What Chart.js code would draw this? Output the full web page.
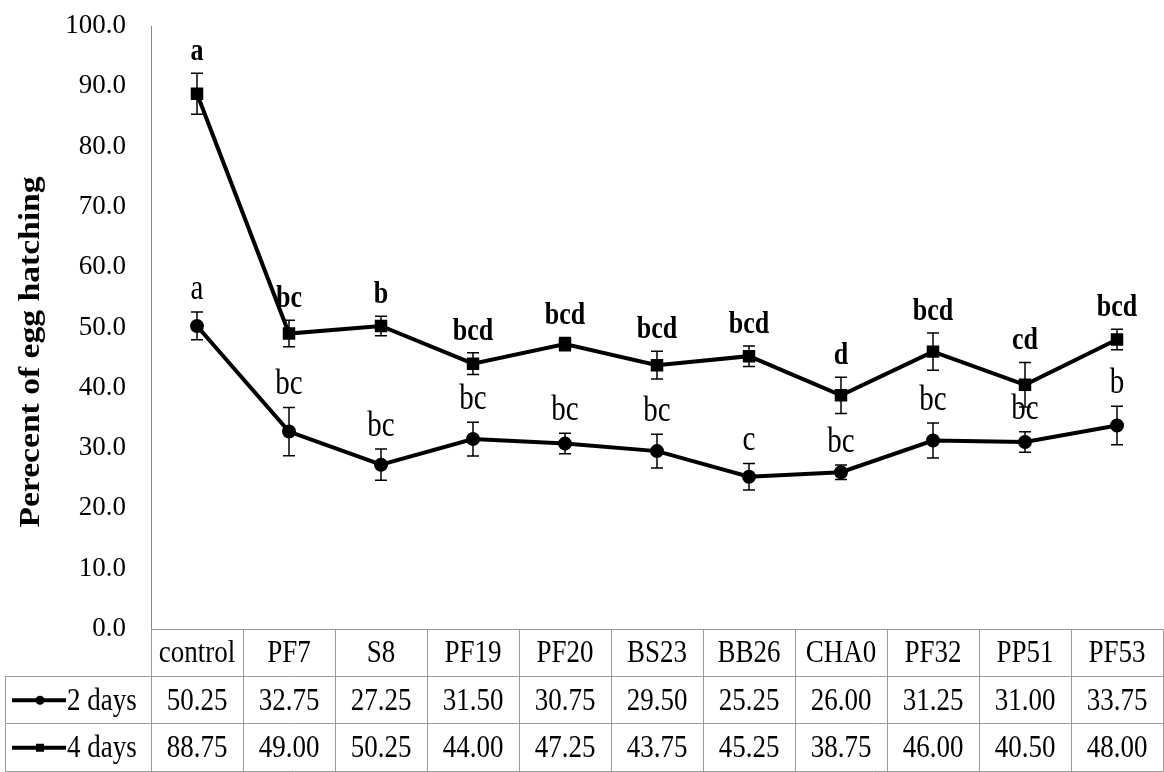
<!DOCTYPE html>
<html>
<head>
<meta charset="utf-8">
<script src="https://cdn.jsdelivr.net/npm/chart.js@4.4.1/dist/chart.umd.min.js"></script>
<style>
  body { margin: 0; background: #fff; }
  #wrap { width: 1164px; height: 772px; }
</style>
</head>
<body>
<div id="wrap"><canvas id="hatching"></canvas></div>
<script>
// data
var categories = ['control', 'PF7', 'S8', 'PF19', 'PF20', 'BS23', 'BB26', 'CHA0', 'PF32', 'PP51', 'PF53'];
var seriesNames = ['2 days', '4 days'];
var days2 = [50.25, 32.75, 27.25, 31.50, 30.75, 29.50, 25.25, 26.00, 31.25, 31.00, 33.75];
var days4 = [88.75, 49.00, 50.25, 44.00, 47.25, 43.75, 45.25, 38.75, 46.00, 40.50, 48.00];
var err2 = [2.3, 4.0, 2.6, 2.8, 1.7, 2.8, 2.2, 1.2, 2.9, 1.7, 3.2];
var err4 = [3.4, 2.2, 1.6, 1.8, 1.1, 2.3, 1.7, 3.0, 3.1, 3.7, 1.7];
var letters2 = ['a', 'bc', 'bc', 'bc', 'bc', 'bc', 'c', 'bc', 'bc', 'bc', 'b'];
var letters4 = ['a', 'bc', 'b', 'bcd', 'bcd', 'bcd', 'bcd', 'd', 'bcd', 'cd', 'bcd'];
var yTitle = 'Perecent of egg hatching';

var serif = "'Liberation Serif', 'Times New Roman', serif";
var gridGrey = '#9a9a9a';

// draws text a little taller than wide, like the original figure
function tallText(ctx, txt, x, y, stretch) {
  ctx.save();
  ctx.translate(x, y);
  ctx.scale(1, stretch);
  ctx.fillText(txt, 0, 0);
  ctx.restore();
}

// error bars + significance letters
var errorBarPlugin = {
  id: 'errorBars',
  afterDatasetsDraw: function(chart) {
    var ctx = chart.ctx;
    var y = chart.scales.y;
    var sets = [
      { vals: days2, errs: err2, letters: letters2, font: 'normal 29px ' + serif, meta: chart.getDatasetMeta(0) },
      { vals: days4, errs: err4, letters: letters4, font: 'bold 26px ' + serif, meta: chart.getDatasetMeta(1) }
    ];
    ctx.save();
    sets.forEach(function(s) {
      s.meta.data.forEach(function(pt, i) {
        var px = pt.x;
        var top = y.getPixelForValue(s.vals[i] + s.errs[i]);
        var bot = y.getPixelForValue(s.vals[i] - s.errs[i]);
        ctx.strokeStyle = '#000';
        ctx.lineWidth = 1.5;
        ctx.beginPath();
        ctx.moveTo(px, top); ctx.lineTo(px, bot);
        ctx.moveTo(px - 6, top); ctx.lineTo(px + 6, top);
        ctx.moveTo(px - 6, bot); ctx.lineTo(px + 6, bot);
        ctx.stroke();
        ctx.fillStyle = '#000';
        ctx.font = s.font;
        ctx.textAlign = 'center';
        ctx.textBaseline = 'alphabetic';
        tallText(ctx, s.letters[i], px, top - 13, 1.2);
      });
    });
    ctx.restore();
  }
};

// data table under the plot, plus y axis title
var tablePlugin = {
  id: 'dataTable',
  afterDraw: function(chart) {
    var ctx = chart.ctx;
    var area = chart.chartArea;
    var x = chart.scales.x;
    var n = categories.length;
    var colW = (area.right - area.left) / n;
    var rowH = 47.5;
    var top = area.bottom;
    var legLeft = 5;
    ctx.save();

    ctx.strokeStyle = gridGrey;
    ctx.lineWidth = 1;
    ctx.beginPath();
    ctx.moveTo(area.left, top + 0.5); ctx.lineTo(area.right, top + 0.5);
    for (var r = 1; r <= 3; r++) {
      var ry = Math.round(top + r * rowH) - 0.5;
      ctx.moveTo(legLeft, ry); ctx.lineTo(area.right, ry);
    }
    for (var i = 0; i <= n; i++) {
      var bx = Math.round(x.getPixelForValue(Math.min(i, n - 1)) + (i === n ? colW / 2 : -colW / 2)) + 0.5;
      ctx.moveTo(bx, top); ctx.lineTo(bx, top + 3 * rowH);
    }
    ctx.moveTo(legLeft + 0.5, top + rowH); ctx.lineTo(legLeft + 0.5, top + 3 * rowH);
    ctx.stroke();

    ctx.fillStyle = '#000';
    ctx.font = '27px ' + serif;
    ctx.textAlign = 'center';
    ctx.textBaseline = 'middle';
    var rows = [days2, days4];
    categories.forEach(function(c, i) {
      var cx = x.getPixelForValue(i);
      tallText(ctx, c, cx, top + rowH / 2 + 1, 1.2);
      rows.forEach(function(vals, r) {
        tallText(ctx, vals[i].toFixed(2), cx, top + (r + 1.5) * rowH + 1, 1.2);
      });
    });

    // legend keys
    seriesNames.forEach(function(name, r) {
      var ly = top + (r + 1.5) * rowH;
      ctx.strokeStyle = '#000';
      ctx.lineWidth = 4;
      ctx.beginPath();
      ctx.moveTo(12, ly); ctx.lineTo(66, ly);
      ctx.stroke();
      ctx.fillStyle = '#000';
      if (r === 0) {
        ctx.beginPath(); ctx.arc(40, ly, 4.5, 0, Math.PI * 2); ctx.fill();
      } else {
        ctx.fillRect(36, ly - 4, 8, 8);
      }
      ctx.textAlign = 'left';
      tallText(ctx, name, 67, ly + 1, 1.2);
    });

    // rotated axis title
    ctx.translate(31, 352);
    ctx.rotate(-Math.PI / 2);
    ctx.font = 'bold 30px ' + serif;
    ctx.textAlign = 'center';
    ctx.textBaseline = 'middle';
    ctx.scale(1.12, 1);
    ctx.fillText(yTitle, 0, 0);
    ctx.restore();
  }
};

var ctx = document.getElementById('hatching');
var chart = new Chart(ctx, {
  type: 'line',
  data: {
    labels: categories,
    datasets: [{
      label: seriesNames[0],
      data: days2,
      borderColor: '#000',
      backgroundColor: '#000',
      borderWidth: 4,
      pointStyle: 'circle',
      pointRadius: 5,
      tension: 0
    }, {
      label: seriesNames[1],
      data: days4,
      borderColor: '#000',
      backgroundColor: '#000',
      borderWidth: 4,
      pointStyle: 'rect',
      pointRadius: 6,
      tension: 0
    }]
  },
  options: {
    responsive: true,
    maintainAspectRatio: false,
    animation: false,
    layout: { autoPadding: false, padding: { top: 26, right: 1, bottom: 143, left: 0 } },
    plugins: { legend: { display: false }, tooltip: { enabled: false } },
    scales: {
      x: { type: 'category', offset: true, display: false },
      y: {
        min: 0,
        max: 100,
        ticks: {
          stepSize: 10,
          padding: 0,
          color: '#000',
          font: { family: serif, size: 27 },
          callback: function(v) { return v.toFixed(1); }
        },
        grid: {
          display: true,
          drawOnChartArea: false,
          drawTicks: true,
          tickLength: 25,
          color: 'rgba(0,0,0,0)',
          tickColor: 'rgba(0,0,0,0)'
        },
        border: { display: true, color: '#888', width: 1 },
        afterFit: function(scale) { scale.width = 151; }
      }
    }
  },
  plugins: [errorBarPlugin, tablePlugin]
});
</script>
</body>
</html>
